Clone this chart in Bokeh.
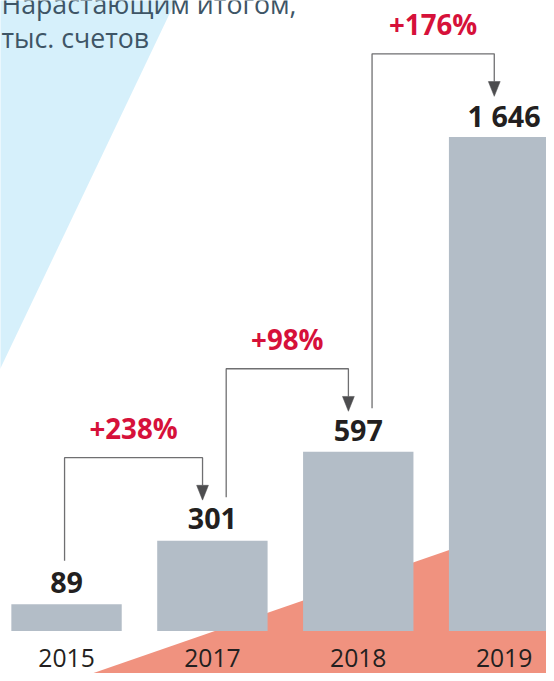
from bokeh.plotting import figure
from bokeh.models import Range1d
from bokeh.core.properties import value
from bokeh.embed import file_html
from bokeh.resources import INLINE

# ---- data ----
years = ["2015", "2017", "2018", "2019"]
accounts = [89, 301, 597, 1646]
title_lines = ["Нарастающим итогом,", "тыс. счетов"]

# ---- styles ----
BAR = "#b3bdc7"
SALMON = "#f0927f"
SKY = "#d6f0fb"
RED = "#d6113a"
DARK = "#231f20"
TITLE = "#3e5566"
LINE = "#6f6f71"
HEAD = "#4d4d4f"
FONT = "Open Sans"

# figure size (fits a 554x681 window with 8px page margin)
W, H = 546, 673
# layout designed on a 554x681 reference grid, scaled into the figure
RW, RH = 554.0, 681.0
PITCH = 148.0      # reference px between bar centres
FIRST_C = 67.0     # reference px of first bar centre
BASE = 638.0       # reference px (from top) of bars' bottom
TOP = 138.0        # reference px (from top) of tallest bar's top

k = (BASE - TOP) / max(accounts)          # reference px per unit
x_start = -FIRST_C / PITCH
x_end = x_start + RW / PITCH
y_start = -(RH - BASE) / k
y_end = y_start + RH / k


def X(rx):
    return x_start + rx / PITCH


def Y(ry):
    return y_end - ry / k


def dx(r):
    return r / PITCH


def dy(r):
    return r / k


def fs(px):
    return f"{px * H / RH:.1f}px"


p = figure(width=W, height=H, x_range=Range1d(x_start, x_end), y_range=Range1d(y_start, y_end),
           output_backend="svg", toolbar_location=None, x_axis_type=None, y_axis_type=None,
           min_border=0)
p.grid.visible = False
p.outline_line_color = None
p.background_fill_color = "white"
p.border_fill_color = "white"

# decorative background shapes
p.patch([X(-20), X(187.5), X(-20)], [Y(-20), Y(-20), Y(414)], color=SKY, line_color=None)
p.patch([X(35), X(600), X(600), X(35)], [Y(701), Y(506), Y(720), Y(720)], color=SALMON, line_color=None)

idx = list(range(len(years)))

# bars
p.vbar(x=idx, top=accounts, bottom=0, width=dx(112), color=BAR, line_color=None)

# value labels (centre of digits ~22 px above the bar top)
LABEL_GAP = 22
val_txt = [f"{v:,}".replace(",", " ") for v in accounts]
p.text(x=idx, y=[v + dy(LABEL_GAP) for v in accounts], text=val_txt, text_align="center",
       text_baseline="middle", text_font=value(FONT), text_font_style="bold",
       text_font_size=fs(29), text_color=DARK)


def label_top(v):
    return v + dy(LABEL_GAP + 10)


# growth brackets
xs_l, ys_l = [], []
hx, hy = [], []
px_, py_, pt_ = [], [], []
for a in range(len(accounts) - 1):
    b = a + 1
    xl = a + (dx(-2) if a == 0 else dx(14))
    xr = b - dx(10)
    y_bottom = label_top(accounts[a]) + dy(12)
    y_top = label_top(accounts[b]) + dy(52)
    tip = label_top(accounts[b]) + dy(9)
    head_base = tip + dy(15)
    xs_l.append([xl, xl, xr, xr])
    ys_l.append([y_bottom, y_top, y_top, head_base])
    hx.append([xr - dx(6), xr + dx(6), xr])
    hy.append([head_base, head_base, tip])
    growth = round((accounts[b] / accounts[a] - 1) * 100)
    px_.append((xl + xr) / 2)
    py_.append(y_top + dy(30))
    pt_.append(f"+{growth}%")

p.multi_line(xs_l, ys_l, line_color=LINE, line_width=1.3)
p.patches(hx, hy, color=HEAD, line_color=HEAD, line_width=0.5)
p.text(x=px_, y=py_, text=pt_, text_align="center", text_baseline="middle",
       text_font=value(FONT), text_font_style="bold", text_font_size=fs(28), text_color=RED)

# year labels
p.text(x=idx, y=[Y(665)] * len(idx), text=years, text_align="center", text_baseline="middle",
       text_font=value(FONT), text_font_size=fs(25), text_color=DARK)

# title
p.text(x=[X(1)] * 2, y=[Y(3), Y(37)], text=title_lines, text_align="left",
       text_baseline="middle", text_font=value(FONT), text_font_size=fs(27), text_color=TITLE)

open("out.html", "w").write(file_html(p, INLINE))
